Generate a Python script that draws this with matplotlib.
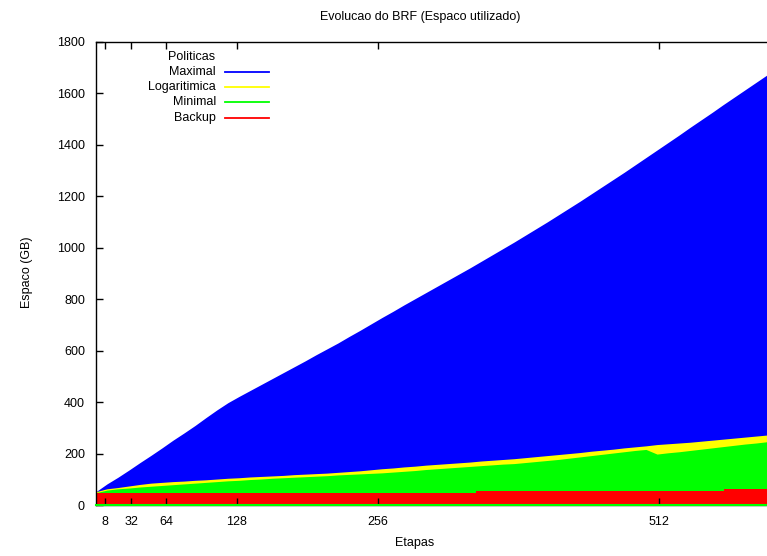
import matplotlib
matplotlib.use('Agg')
import matplotlib.pyplot as plt
from matplotlib.lines import Line2D

# Etapas (x) sampled every 10 steps
etapas = list(range(0, 611, 10))

maximal = [52, 82, 108, 136, 165, 193, 222, 252, 280, 309,
           340, 370, 398, 422, 445, 468, 491, 514, 537, 560,
           584, 607, 630, 655, 679, 704, 729, 753, 778, 802,
           826, 850, 874, 898, 922, 947, 972, 997, 1022, 1048,
           1074, 1100, 1127, 1154, 1181, 1209, 1237, 1265, 1293, 1322,
           1351, 1380, 1409, 1438, 1468, 1497, 1526, 1556, 1585, 1614,
           1643, 1672]

logaritmica = [52, 63, 68, 74, 80, 85, 88, 91, 93, 96,
               98, 101, 104, 106, 109, 111, 113, 115, 118, 120,
               122, 124, 127, 130, 133, 137, 141, 144, 148, 151,
               155, 158, 161, 164, 167, 171, 174, 177, 180, 184,
               188, 192, 196, 200, 204, 209, 213, 217, 222, 226,
               230, 235, 238, 241, 244, 248, 252, 256, 260, 264,
               268, 272]

minimal = [48, 58, 63, 66, 70, 73, 76, 79, 82, 85,
           88, 91, 94, 96, 99, 101, 104, 106, 108, 110,
           112, 114, 117, 119, 121, 123, 125, 128, 131, 134,
           138, 141, 144, 147, 150, 153, 156, 159, 161, 165,
           169, 173, 177, 182, 187, 192, 197, 202, 207, 212,
           216, 198, 203, 207, 212, 217, 222, 227, 232, 237,
           241, 246]

backup_etapas = [0, 345, 571, 610]
backup = [47, 54, 61, 61]

xticks = [8, 32, 64, 128, 256, 512]
yticks = [0, 200, 400, 600, 800, 1000, 1200, 1400, 1600, 1800]

series_names = ['Maximal', 'Logaritimica', 'Minimal', 'Backup']
series_colors = ['#0000ff', '#ffff00', '#00ff00', '#ff0000']

plt.rcParams['font.family'] = ['Liberation Sans', 'DejaVu Sans']

W, H = 767, 556
fig = plt.figure(figsize=(W / 100, H / 100), dpi=100)
ax = fig.add_axes([96 / W, 51 / H, 671 / W, 463 / H])

ax.fill_between(etapas, maximal, color=series_colors[0], lw=0)
ax.fill_between(etapas, logaritmica, color=series_colors[1], lw=0)
ax.fill_between(etapas, minimal, color=series_colors[2], lw=0)
ax.fill_between(backup_etapas, backup, step='post', color=series_colors[3], lw=0)
ax.axhline(0, color='#00ff00', lw=1.5, zorder=5, clip_on=False)

ax.set_xlim(0, 610)
ax.set_ylim(0, 1800)
ax.set_xticks(xticks)
ax.set_yticks(yticks)
ax.tick_params(direction='in', length=5, width=1, top=True, right=False,
               labelsize=9, pad=8, colors='black')
ax.spines['right'].set_visible(False)
for s in ['left', 'top', 'bottom']:
    ax.spines[s].set_linewidth(1)

fig.text(420 / W, 1 - 17 / H, 'Evolucao do BRF (Espaco utilizado)',
         ha='center', va='center', fontsize=9)
fig.text(415 / W, 1 - 543 / H, 'Etapas', ha='center', va='center', fontsize=9)
fig.text(27 / W, 1 - 272 / H, 'Espaco (GB)', ha='center', va='center',
         rotation=90, fontsize=9)

# Legend (gnuplot style)
fig.text(192 / W, 1 - 57 / H, 'Politicas', ha='center', va='center', fontsize=9)
label_y = [72, 87, 102, 118]
for name, col, yy in zip(series_names, series_colors, label_y):
    fig.text(216 / W, 1 - yy / H, name, ha='right', va='center', fontsize=9)
    fig.add_artist(Line2D([225 / W, 269 / W], [1 - yy / H, 1 - yy / H],
                          color=col, lw=1.3, transform=fig.transFigure))

fig.savefig('out.png', dpi=100)
